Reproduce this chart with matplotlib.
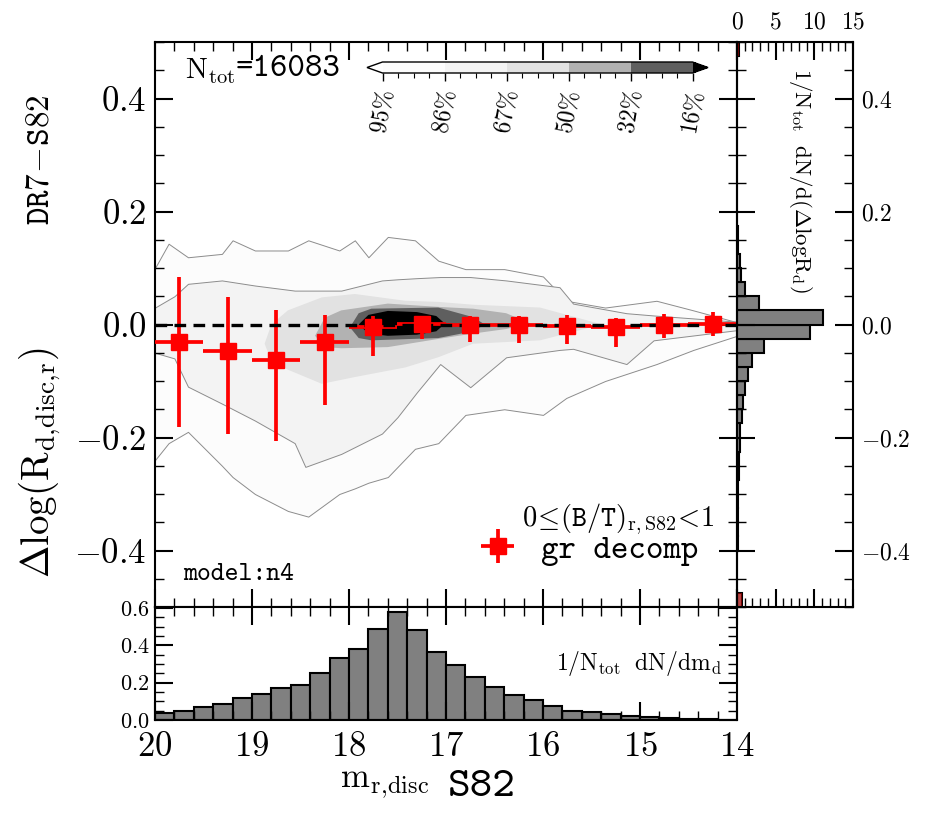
import numpy as np
import matplotlib
matplotlib.use('Agg')
import matplotlib.pyplot as plt
from matplotlib.colors import ListedColormap, BoundaryNorm
from matplotlib.cm import ScalarMappable
from matplotlib.ticker import MultipleLocator, AutoMinorLocator

plt.rcParams['font.family'] = 'serif'
plt.rcParams['font.serif'] = ['cmr10']
plt.rcParams['mathtext.fontset'] = 'cm'
plt.rcParams['axes.formatter.use_mathtext'] = True

# --- density contours: magnitude, upper edge, lower edge of each level
l95_m = [20.0, 19.86, 19.66, 19.31, 19.2, 18.97, 18.63, 18.42, 18.1, 17.94, 17.8, 17.6, 17.32,
         17.08, 16.8, 16.4, 16.0, 15.76, 15.36, 14.83, 14.45, 14.0]
l95_hi = [0.10, 0.143, 0.119, 0.125, 0.149, 0.131, 0.131, 0.149, 0.131, 0.149, 0.119, 0.155, 0.149,
          0.113, 0.098, 0.098, 0.085, 0.042, 0.030, 0.042, 0.025, 0.004]
l95_lo = [-0.24, -0.21, -0.19, -0.25, -0.27, -0.30, -0.33, -0.34, -0.30, -0.29, -0.28, -0.27, -0.22,
          -0.21, -0.16, -0.15, -0.16, -0.13, -0.10, -0.07, -0.045, -0.02]
l86_m = [20.0, 19.8, 19.66, 19.31, 18.97, 18.56, 18.45, 18.08, 17.66, 17.5, 17.3, 17.06, 16.75,
         16.38, 15.83, 15.69, 15.14, 14.86, 14.0]
l86_hi = [0.03, 0.05, 0.072, 0.078, 0.069, 0.06, 0.06, 0.06, 0.078, 0.08, 0.082, 0.084, 0.084,
          0.078, 0.066, 0.037, 0.02, 0.016, 0.005]
l86_lo = [-0.05, -0.06, -0.11, -0.14, -0.17, -0.21, -0.252, -0.229, -0.193, -0.164, -0.12, -0.07,
          -0.111, -0.058, -0.045, -0.043, -0.07, -0.028, -0.01]
l67_m = [18.87, 18.8, 18.63, 18.28, 17.94, 17.42, 17.08, 16.72, 16.03, 15.39]
l67_hi = [-0.034, 0.0, 0.025, 0.048, 0.054, 0.042, 0.04, 0.035, 0.03, 0.0]
l67_lo = [-0.034, -0.065, -0.08, -0.105, -0.093, -0.076, -0.058, -0.034, -0.028, 0.0]
l50_m = [18.35, 18.25, 18.08, 17.6, 17.06, 16.72, 16.38, 16.13]
l50_hi = [-0.02, 0.012, 0.025, 0.037, 0.031, 0.028, 0.02, 0.002]
l50_lo = [-0.02, -0.04, -0.042, -0.04, -0.025, -0.016, -0.008, 0.002]
l32_m = [17.99, 17.9, 17.77, 17.08, 16.72, 16.6]
l32_hi = [-0.005, 0.02, 0.028, 0.03, 0.013, 0.0]
l32_lo = [-0.005, -0.024, -0.028, -0.024, -0.012, 0.0]
l16_m = [17.9, 17.8, 17.6, 17.3, 17.1, 17.02]
l16_hi = [0.0, 0.017, 0.024, 0.022, 0.015, 0.003]
l16_lo = [0.0, -0.016, -0.02, -0.018, -0.012, 0.0]
level_names = ['95%', '86%', '67%', '50%', '32%', '16%']
level_colors = ['#fcfcfc', '#f3f3f3', '#e2e2e2', '#b2b2b2', '#5f5f5f', '#000000']

# --- binned medians (gr decomp)
mag_pts = [19.75, 19.25, 18.75, 18.25, 17.75, 17.25, 16.75, 16.25, 15.75, 15.25, 14.75, 14.25]
dlog_pts = [-0.031, -0.047, -0.062, -0.031, -0.005, 0.001, -0.001, 0.0, -0.002, -0.005, 0.0, 0.001]
dlog_lo = [-0.182, -0.193, -0.207, -0.142, -0.055, -0.025, -0.031, -0.032, -0.035, -0.039, -0.024, -0.021]
dlog_hi = [0.084, 0.048, 0.026, 0.016, 0.015, 0.015, 0.015, 0.015, 0.016, 0.012, 0.018, 0.022]
mag_halfbin = 0.25

# --- histogram of m_r,disc (bins of 0.2 from 20 to 14)
mag_hist = [0.04, 0.05, 0.067, 0.086, 0.12, 0.137, 0.17, 0.185, 0.25, 0.33, 0.378, 0.486, 0.58,
            0.483, 0.364, 0.292, 0.229, 0.175, 0.135, 0.106, 0.076, 0.05, 0.043, 0.031, 0.023,
            0.018, 0.009, 0.007, 0.004, 0.002]

# --- histogram of delta log R_d (bins of 0.025 from -0.5 to 0.5)
dlog_hist = [0.7, 0.05, 0.05, 0.06, 0.07, 0.08, 0.1, 0.12, 0.15, 0.2,
             0.25, 0.36, 0.42, 0.6, 0.74, 1.04, 1.45, 2.0, 3.5, 9.45,
             11.1, 2.86, 1.0, 0.56, 0.35, 0.15, 0.08, 0.05, 0.03, 0.02,
             0.01, 0.01, 0.01, 0.01, 0.01, 0.01, 0.01, 0.01, 0.01, 0.3]
dlog_hist_red = [0.7] + [0.0] * 38 + [0.3]


def style(ax):
    ax.tick_params(which='both', direction='in', top=True, bottom=True, left=True, right=True)
    ax.tick_params(which='major', length=13, width=1.5, pad=6)
    ax.tick_params(which='minor', length=6.5, width=1.0)
    for s in ax.spines.values():
        s.set_linewidth(1.5)


def main():
    fig = plt.figure(figsize=(9.26, 8.16), dpi=100)
    W, H = 926.0, 816.0
    ax = fig.add_axes([155 / W, 1 - 607 / H, 582 / W, 565 / H])
    axb = fig.add_axes([155 / W, 1 - 720 / H, 582 / W, 113 / H])
    axr = fig.add_axes([737 / W, 1 - 607 / H, 116 / W, 565 / H])
    cax = fig.add_axes([367 / W, 1 - 73 / H, 341 / W, 11 / H])

    # filled density levels, outermost first
    contours = [(l95_m, l95_lo, l95_hi), (l86_m, l86_lo, l86_hi), (l67_m, l67_lo, l67_hi),
                (l50_m, l50_lo, l50_hi), (l32_m, l32_lo, l32_hi), (l16_m, l16_lo, l16_hi)]
    for i, (m, lo, hi) in enumerate(contours):
        edge = '#8c8c8c' if i < 2 else 'none'
        ax.fill_between(m, lo, hi, facecolor=level_colors[i], edgecolor=edge,
                        linewidth=0.7, zorder=1 + 0.1 * i)

    # medians with error bars
    yerr = [np.array(dlog_pts) - np.array(dlog_lo), np.array(dlog_hi) - np.array(dlog_pts)]
    eb = ax.errorbar(mag_pts, dlog_pts, xerr=mag_halfbin, yerr=yerr, fmt='s', color='red',
                     ms=11, elinewidth=2.7, capsize=0, zorder=3)
    eb[0].set_zorder(5)
    ax.axhline(0.0, color='black', lw=2.4, ls=(0, (3.5, 2.2)), zorder=4)

    ax.set_xlim(20, 14)
    ax.set_ylim(-0.5, 0.5)
    ax.xaxis.set_major_locator(MultipleLocator(1))
    ax.xaxis.set_minor_locator(MultipleLocator(0.2))
    ax.yaxis.set_major_locator(MultipleLocator(0.2))
    ax.yaxis.set_minor_locator(MultipleLocator(0.05))
    style(ax)
    ax.tick_params(labelbottom=False, labelsize=25)

    t_n = ax.text(0.052, 0.935, r'$\mathrm{N_{tot}}$', transform=ax.transAxes,
                  fontsize=21, va='baseline', ha='left')
    ax.annotate('=16083', xy=(1.0, 0.33), xycoords=t_n, family='cmtt10', fontsize=24,
                va='baseline', ha='left')
    ax.text(0.048, 0.058, 'model:n4', family='cmtt10', transform=ax.transAxes,
            fontsize=19, va='center', ha='left')
    ax.text(0.962, 0.155, r'$\mathtt{0}\!\leq\!\mathtt{(B/T)}_{\mathrm{r,S82}}\!\mathtt{<}\!\mathtt{1}$',
            transform=ax.transAxes, fontsize=20.5, va='center', ha='right')
    ax.legend([eb], ['gr decomp'], loc='lower right', bbox_to_anchor=(0.985, 0.02),
              frameon=False, handlelength=1.0, handletextpad=0.8,
              prop={'family': 'cmtt10', 'size': 24})

    # colorbar
    cmap = ListedColormap(level_colors[:5])
    cmap.set_under('white')
    cmap.set_over('black')
    bounds = [0.5, 1.5, 2.5, 3.5, 4.5, 5.5]
    sm = ScalarMappable(norm=BoundaryNorm(bounds, cmap.N), cmap=cmap)
    cb = fig.colorbar(sm, cax=cax, orientation='horizontal', extend='both')
    cb.set_ticks(bounds)
    cb.set_ticklabels(level_names)
    cb.ax.xaxis.set_minor_locator(AutoMinorLocator(4))
    cb.ax.tick_params(which='major', direction='out', length=6, width=1.0, labelsize=17,
                      labelrotation=80, pad=4)
    cb.ax.tick_params(which='minor', direction='out', length=3.5, width=0.8)
    cb.outline.set_linewidth(1.0)

    # bottom histogram
    mag_edges = np.linspace(20, 14, len(mag_hist) + 1)
    axb.bar(mag_edges[:-1], mag_hist, width=mag_edges[1:] - mag_edges[:-1], align='edge',
            color='#808080', edgecolor='black', linewidth=1.5)
    axb.set_xlim(20, 14)
    axb.set_ylim(0, 0.605)
    axb.xaxis.set_major_locator(MultipleLocator(1))
    axb.xaxis.set_minor_locator(MultipleLocator(0.2))
    axb.yaxis.set_major_locator(MultipleLocator(0.2))
    axb.yaxis.set_minor_locator(MultipleLocator(0.05))
    style(axb)
    axb.tick_params(axis='x', labelsize=25, pad=8)
    axb.tick_params(axis='y', labelsize=16, pad=4)
    axb.text(0.975, 0.5, r'$\mathrm{1/N_{tot}}\ \ \mathrm{dN/dm_d}$', transform=axb.transAxes,
             fontsize=17, ha='right', va='center')

    # right histogram
    dlog_edges = np.linspace(-0.5, 0.5, len(dlog_hist) + 1)
    axr.barh(dlog_edges[:-1], dlog_hist, height=0.025, align='edge',
             color='#808080', edgecolor='black', linewidth=1.5)
    axr.barh(dlog_edges[:-1], dlog_hist_red, height=0.025, align='edge',
             color='red', alpha=0.45, linewidth=0)
    axr.set_xlim(0, 15)
    axr.set_ylim(-0.5, 0.5)
    axr.xaxis.set_major_locator(MultipleLocator(5))
    axr.xaxis.set_minor_locator(MultipleLocator(1))
    axr.yaxis.set_major_locator(MultipleLocator(0.2))
    axr.yaxis.set_minor_locator(MultipleLocator(0.05))
    style(axr)
    axr.tick_params(labelleft=False, labelbottom=False, labelright=True, labeltop=True,
                    labelsize=17)
    axr.text(0.55, 0.755, r'$\mathrm{1/N_{tot}}\ \ \mathrm{dN/d(\Delta logR_d)}$',
             transform=axr.transAxes, fontsize=16.5, rotation=-90, ha='center', va='center')

    # axis labels
    fig.text(40 / W, 1 - 462 / H, r'$\Delta\log(\mathrm{R_{d,\!disc,\!r}})$', rotation=90,
             fontsize=28, ha='center', va='center')
    fig.text(40 / W, 1 - 160 / H, r'$\mathtt{DR7\!-\!S82}$', rotation=90,
             fontsize=24, ha='center', va='center')
    fig.text(340 / W, 1 - 787 / H, r'$\mathrm{m_{r,\!disc}}$',
             fontsize=25, ha='left', va='baseline')
    fig.text(448 / W, 1 - 796 / H, 'S82', family='cmtt10',
             fontsize=31, ha='left', va='baseline')

    fig.savefig('out.png', dpi=100)


if __name__ == '__main__':
    main()
